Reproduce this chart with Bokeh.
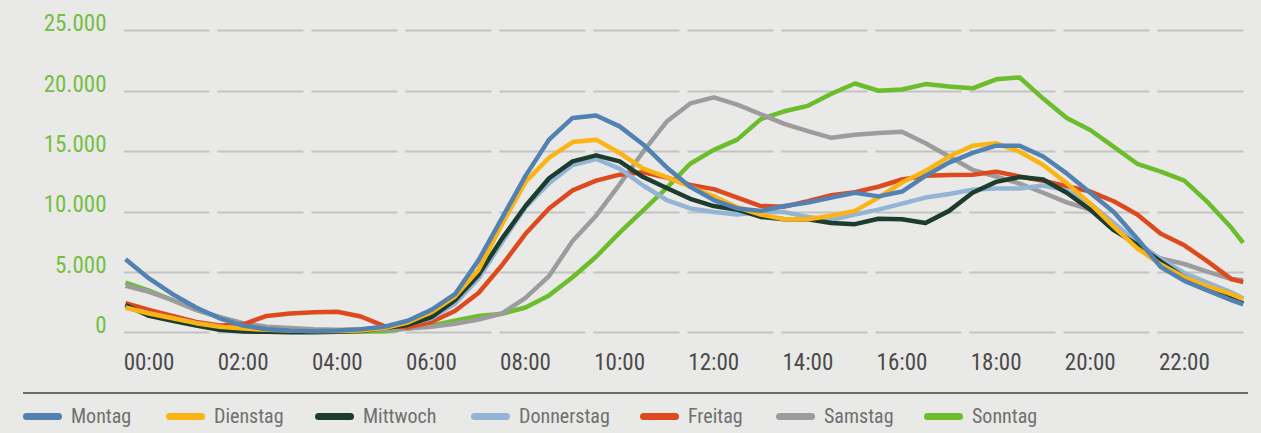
from bokeh.plotting import figure
from bokeh.models import FixedTicker, Range1d, Div, GlobalInlineStyleSheet
from bokeh.layouts import column
from bokeh.embed import file_html
from bokeh.resources import INLINE

# ---------------- data ----------------
hours = [i * 0.5 for i in range(48)] + [23.75]

montag = [6100, 4500, 3200, 2100, 1200, 600, 300, 200, 150, 200, 300, 500, 1000, 1900, 3200, 6000,
          9500, 13000, 16000, 17800, 18000, 17100, 15600, 13700, 12100, 11000, 10300, 10100, 10500,
          10800, 11200, 11600, 11300, 11700, 13000, 14100, 14900, 15500, 15500, 14600, 13200, 11600,
          10000, 7800, 5450, 4300, 3500, 2700, 2350]
dienstag = [2100, 1600, 1200, 800, 500, 350, 250, 200, 150, 150, 200, 400, 850, 1700, 3000, 5200,
            9000, 12500, 14500, 15800, 16000, 14900, 13600, 12900, 12100, 11300, 10400, 9800, 9400,
            9400, 9700, 10100, 11200, 12450, 13400, 14600, 15500, 15700, 15000, 13900, 12400, 10700,
            8800, 7000, 5650, 4600, 3850, 3200, 2800]
mittwoch = [2300, 1400, 1000, 600, 250, 100, 80, 50, 50, 80, 150, 400, 650, 1300, 2700, 4800,
            7800, 10500, 12800, 14200, 14700, 14200, 12900, 12000, 11100, 10500, 10200, 9600, 9400,
            9400, 9100, 9000, 9450, 9400, 9100, 10100, 11600, 12500, 12900, 12700, 11600, 10200,
            8500, 7300, 5900, 4600, 3650, 2850, 2450]
donnerstag = [2100, 1600, 1200, 800, 500, 300, 200, 150, 150, 150, 200, 400, 700, 1200, 2400, 4500,
              7500, 10400, 12400, 13900, 14400, 13600, 12200, 11000, 10300, 10000, 9800, 10000, 10000,
              9600, 9350, 9800, 10200, 10700, 11200, 11500, 11850, 11950, 11950, 12200, 11800, 10700,
              9100, 7500, 6100, 4950, 4150, 3350, 2850]
freitag = [2450, 1900, 1400, 900, 600, 700, 1400, 1600, 1700, 1750, 1350, 550, 450, 900, 1800, 3300,
           5600, 8200, 10300, 11800, 12600, 13100, 13300, 12850, 12250, 11900, 11200, 10500, 10450,
           10900, 11400, 11650, 12100, 12700, 13000, 13080, 13100, 13350, 12950, 12600, 12150, 11700,
           10900, 9800, 8200, 7250, 5900, 4450, 4200]
samstag = [3900, 3400, 2700, 1900, 1300, 800, 500, 400, 300, 250, 250, 250, 350, 500, 750, 1100,
           1600, 2900, 4700, 7600, 9700, 12300, 15000, 17500, 19000, 19500, 18900, 18100, 17300,
           16700, 16150, 16400, 16550, 16650, 15700, 14600, 13500, 12950, 12350, 11600, 10800, 10200,
           8900, 7100, 6150, 5700, 5050, 4450, 4350]
sonntag = [4150, 3500, 2700, 1900, 1300, 750, 450, 300, 200, 150, 100, 120, 350, 600, 1000, 1400,
           1580, 2100, 3100, 4600, 6300, 8300, 10150, 12000, 14000, 15150, 16000, 17700, 18350,
           18800, 19800, 20650, 20050, 20150, 20600, 20400, 20250, 21000, 21150, 19400, 17800, 16800,
           15400, 14000, 13350, 12600, 10800, 8700, 7450]

series_names = ["Montag", "Dienstag", "Mittwoch", "Donnerstag", "Freitag", "Samstag", "Sonntag"]
series_values = [montag, dienstag, mittwoch, donnerstag, freitag, samstag, sonntag]
series_colors = ["#5282b1", "#fbb414", "#1c3d2d", "#93b4d5", "#dd4a1d", "#9c9c9e", "#6cbd2c"]

y_ticks = [0, 5000, 10000, 15000, 20000, 25000]
y_tick_labels = ["0", "5.000", "10.000", "15.000", "20.000", "25.000"]
x_label_hours = [0.5, 2.5, 4.5, 6.5, 8.5, 10.5, 12.5, 14.5, 16.5, 18.5, 20.5, 22.5]
x_tick_labels = ["00:00", "02:00", "04:00", "06:00", "08:00", "10:00",
                 "12:00", "14:00", "16:00", "18:00", "20:00", "22:00"]

# ---------------- style ----------------
BG = "#e9e9e7"
FONT = "Liberation Sans Narrow, Roboto Condensed, Noto Sans Condensed, DejaVu Sans Condensed, Roboto"
Y_LABEL_LIFT = 680  # y labels sit just above their grid lines

p = figure(width=1261, height=385,
           x_range=Range1d(-0.0425, 23.863), y_range=Range1d(-637, 26697),
           output_backend="svg", toolbar_location=None,
           min_border_left=123, min_border_right=13, min_border_top=10, min_border_bottom=45,
           background_fill_color=BG, border_fill_color=BG, outline_line_color=None)

p.xaxis.ticker = FixedTicker(ticks=x_label_hours)
p.xaxis.major_label_overrides = dict(zip(x_label_hours, x_tick_labels))
y_label_pos = [t + Y_LABEL_LIFT for t in y_ticks]
p.yaxis.ticker = FixedTicker(ticks=y_label_pos)
p.yaxis.major_label_overrides = dict(zip(y_label_pos, y_tick_labels))
p.ygrid.ticker = FixedTicker(ticks=y_ticks)

for ax in (p.xaxis, p.yaxis):
    ax.axis_line_color = None
    ax.major_tick_line_color = None
    ax.minor_tick_line_color = None
    ax.major_label_text_font = FONT
    ax.major_label_text_font_size = "23px"
p.xaxis.major_label_text_color = "#4a4a4a"
p.xaxis.major_label_standoff = 2
p.yaxis.major_label_text_color = "#74bf43"
p.yaxis.major_label_standoff = 11

p.xgrid.visible = False
p.ygrid.grid_line_color = "#c3c3c3"
p.ygrid.grid_line_width = 2
p.ygrid.grid_line_dash = "86 8"

for name, vals, col in reversed(list(zip(series_names, series_values, series_colors))):
    p.line(hours, vals, line_color=col, line_width=4.5, line_join="round")

# ---------------- separator rule + legend strip ----------------
legend_left = [23, 166, 315, 471, 640, 776, 924]
html = ['<div style="position:relative;width:1261px;height:48px;background:%s;">' % BG,
        '<div style="position:absolute;left:23px;top:7px;width:1225px;height:2px;background:#6b6b6b;"></div>']
for name, col, left in zip(series_names, series_colors, legend_left):
    html.append(
        '<div style="position:absolute;left:%dpx;top:19px;height:24px;display:flex;'
        'align-items:center;white-space:nowrap;">'
        '<span style="display:inline-block;width:39px;height:7px;border-radius:4px;'
        'background:%s;margin-right:9px;"></span>'
        '<span style="font-family:%s;font-size:20px;line-height:24px;color:#707070;">%s</span>'
        '</div>' % (left, col, FONT, name))
html.append('</div>')
legend_strip = Div(text="".join(html), width=1261, height=48, margin=0,
                   styles={"background-color": BG})

layout = column(p, legend_strip, spacing=0,
                stylesheets=[GlobalInlineStyleSheet(css="html, body { background-color: #e9e9e7; }")])

open("out.html", "w").write(file_html(layout, INLINE))
